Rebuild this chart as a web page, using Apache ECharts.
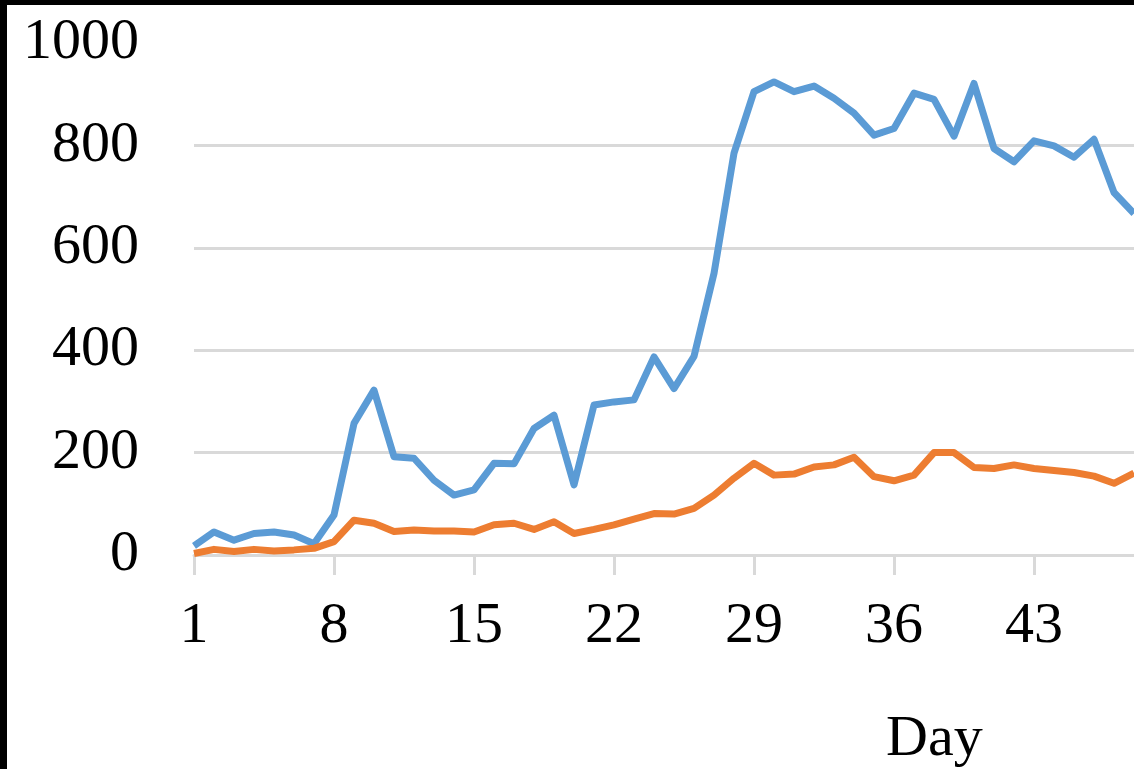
<!DOCTYPE html>
<html>
<head>
<meta charset="utf-8">
<script src="https://cdn.jsdelivr.net/npm/echarts@6/dist/echarts.min.js"></script>
<style>
  html, body { margin: 0; padding: 0; background: #000; width: 1134px; height: 769px; overflow: hidden; }
  #chart { position: absolute; left: 7px; top: 5px; width: 1127px; height: 764px; background: #fff; }
</style>
</head>
<body>
<div id="chart"></div>
<script>
const days = ['1','2','3','4','5','6','7','8','9','10','11','12','13','14','15','16','17','18','19','20','21','22','23','24','25','26','27','28','29','30','31','32','33','34','35','36','37','38','39','40','41','42','43','44','45','46','47','48'];
const seriesBlue = [18,45,29,42,45,39,22,78,257,322,192,189,146,117,127,179,178,247,273,137,293,299,303,387,325,388,550,785,905,924,905,916,892,863,820,833,902,890,818,921,794,768,809,799,777,812,708,667];
const seriesOrange = [3,11,7,11,8,10,13,26,68,62,46,49,47,47,45,59,62,50,65,42,50,59,70,81,80,91,117,150,179,156,158,172,176,191,153,145,156,200,200,171,169,176,169,165,161,154,140,160];
const yTicks = { min: 0, max: 1000, interval: 200 };
const xAxisName = 'Day';

const chart = echarts.init(document.getElementById('chart'));
const font = 'Liberation Serif, Times New Roman, serif';
chart.setOption({
  animation: false,
  backgroundColor: '#fff',
  grid: { left: 187, right: 0, top: 38, bottom: 214, containLabel: false },
  xAxis: {
    type: 'category',
    data: days,
    boundaryGap: false,
    axisLine: { show: true, lineStyle: { color: '#d9d9d9', width: 3 } },
    axisTick: { show: true, interval: 6, length: 20, lineStyle: { color: '#d9d9d9', width: 3 } },
    axisLabel: { interval: 6, margin: 43, color: '#000', fontFamily: font, fontSize: 58 },
    splitLine: { show: false }
  },
  yAxis: {
    type: 'value',
    min: yTicks.min, max: yTicks.max, interval: yTicks.interval,
    axisLine: { show: false },
    axisTick: { show: false },
    axisLabel: { margin: 55, color: '#000', fontFamily: font, fontSize: 58, formatter: function (v) { return String(v); } },
    splitLine: { show: true, showMaxLine: false, lineStyle: { color: '#d9d9d9', width: 3 } }
  },
  graphic: [{
    type: 'text', left: 879, top: 706,
    style: { text: xAxisName, fontFamily: font, fontSize: 58, fill: '#000' }
  }],
  series: [
    { name: 'Series 1', type: 'line', data: seriesBlue, symbol: 'none', smooth: false,
      lineStyle: { color: '#5b9bd5', width: 7, join: 'round' }, itemStyle: { color: '#5b9bd5' } },
    { name: 'Series 2', type: 'line', data: seriesOrange, symbol: 'none', smooth: false,
      lineStyle: { color: '#ed7d31', width: 7, join: 'round' }, itemStyle: { color: '#ed7d31' } }
  ]
});
</script>
</body>
</html>
